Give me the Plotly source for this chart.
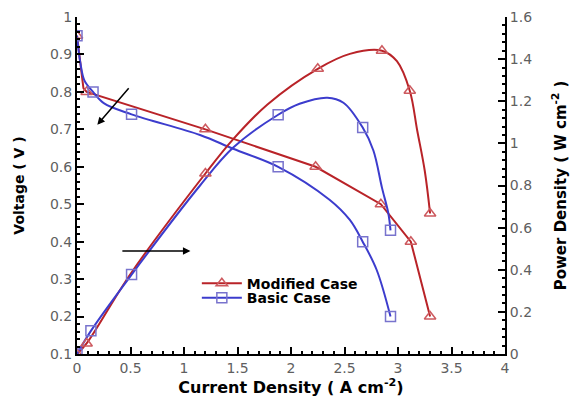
import plotly.graph_objects as go

# ---------------- data ----------------
# Modified case - voltage (left axis)
mod_volt_curve_I = [0, 0.06, 0.09, 1.2, 2.23, 2.84, 3.12, 3.3]
mod_volt_curve_V = [0.95, 0.81, 0.80, 0.70, 0.60, 0.50, 0.40, 0.20]
mod_volt_mark_I = [0, 0.09, 1.2, 2.23, 2.84, 3.12, 3.3]
mod_volt_mark_V = [0.95, 0.80, 0.70, 0.60, 0.50, 0.40, 0.20]

# Basic case - voltage (left axis)
bas_volt_curve_I = [0, 0.03, 0.07, 0.15, 0.25, 0.51, 1.15, 1.46, 1.88, 2.36, 2.55, 2.67, 2.8, 2.93]
bas_volt_curve_V = [0.95, 0.88, 0.83, 0.80, 0.77, 0.74, 0.685, 0.648, 0.60, 0.512, 0.458, 0.40, 0.325, 0.20]
bas_volt_mark_I = [0, 0.15, 0.51, 1.88, 2.67, 2.93]
bas_volt_mark_V = [0.95, 0.80, 0.74, 0.60, 0.40, 0.20]

# Modified case - power density (right axis)
mod_pow_curve_I = [0, 0.09, 0.5, 1.2, 1.46, 1.78, 2.25, 2.55, 2.85, 2.99, 3.11, 3.18, 3.25, 3.3]
mod_pow_curve_P = [0, 0.05, 0.38, 0.857, 1.02, 1.185, 1.354, 1.425, 1.44, 1.39, 1.25, 1.06, 0.87, 0.667]
mod_pow_mark_I = [0, 0.09, 1.2, 2.25, 2.85, 3.11, 3.3]
mod_pow_mark_P = [0, 0.05, 0.857, 1.354, 1.44, 1.25, 0.667]

# Basic case - power density (right axis)
bas_pow_curve_I = [0, 0.13, 0.51, 1.15, 1.46, 1.88, 2.08, 2.34, 2.49, 2.67, 2.77, 2.85, 2.91, 2.93]
bas_pow_curve_P = [0, 0.11, 0.377, 0.80, 0.98, 1.136, 1.188, 1.217, 1.193, 1.075, 0.966, 0.79, 0.667, 0.587]
bas_pow_mark_I = [0, 0.13, 0.51, 1.88, 2.67, 2.93]
bas_pow_mark_P = [0, 0.11, 0.377, 1.136, 1.075, 0.587]

series_names = ["Modified Case", "Basic Case"]

RED = "rgb(185,35,40)"
BLUE = "rgb(60,60,205)"
RED_M = "rgb(205,90,95)"
BLUE_M = "rgb(120,115,205)"
FONT = "DejaVu Sans, Liberation Sans, Arial, sans-serif"

fig = go.Figure()

def add_curve(x, y, color, yaxis, shape="linear"):
    fig.add_trace(go.Scatter(x=x, y=y, mode="lines", yaxis=yaxis,
                             line=dict(color=color, width=2, shape=shape),
                             showlegend=False, hoverinfo="skip"))

def add_marks(x, y, color, symbol, yaxis):
    fig.add_trace(go.Scatter(x=x, y=y, mode="markers", yaxis=yaxis,
                             marker=dict(symbol=symbol, size=10, color=color,
                                         line=dict(color=color, width=1.5)),
                             showlegend=False, hoverinfo="skip"))

add_curve(mod_volt_curve_I, mod_volt_curve_V, RED, "y")
add_curve(bas_volt_curve_I, bas_volt_curve_V, BLUE, "y", "spline")
add_curve(mod_pow_curve_I, mod_pow_curve_P, RED, "y2", "spline")
add_curve(bas_pow_curve_I, bas_pow_curve_P, BLUE, "y2", "spline")

add_marks(mod_volt_mark_I, mod_volt_mark_V, RED_M, "triangle-up-open", "y")
add_marks(bas_volt_mark_I, bas_volt_mark_V, BLUE_M, "square-open", "y")
add_marks(mod_pow_mark_I, mod_pow_mark_P, RED_M, "triangle-up-open", "y2")
add_marks(bas_pow_mark_I, bas_pow_mark_P, BLUE_M, "square-open", "y2")

# legend entries (two legends so the rows can sit close together)
for name, col, mcol, sym, lg in [(series_names[0], RED, RED_M, "triangle-up-open", "legend"),
                                 (series_names[1], BLUE, BLUE_M, "square-open", "legend2")]:
    fig.add_trace(go.Scatter(x=[None], y=[None], mode="lines+markers", name=name,
                             legend=lg,
                             line=dict(color=col, width=2),
                             marker=dict(symbol=sym, size=10, color=mcol,
                                         line=dict(color=mcol, width=1.5))))

# arrows
fig.add_annotation(x=0.19, y=0.712, ax=0.495, ay=0.814, xref="x", yref="y",
                   axref="x", ayref="y", text="", showarrow=True,
                   arrowhead=2, arrowsize=1, arrowwidth=1.5, arrowcolor="black")
fig.add_annotation(x=1.06, y=0.375, ax=0.41, ay=0.375, xref="x", yref="y",
                   axref="x", ayref="y", text="", showarrow=True,
                   arrowhead=2, arrowsize=1, arrowwidth=1.5, arrowcolor="black")

tickfont = dict(family=FONT, size=14, color="rgb(95,95,95)")
legfont = dict(family=FONT, size=14, color="black", weight="bold")

fig.update_layout(
    width=572, height=401,
    margin=dict(l=77, r=67, t=17, b=47),
    paper_bgcolor="white", plot_bgcolor="white",
    showlegend=True,
    legend=dict(x=0.28, y=0.256, xanchor="left", yanchor="top", font=legfont,
                bgcolor="rgba(0,0,0,0)", itemwidth=40),
    legend2=dict(x=0.28, y=0.213, xanchor="left", yanchor="top", font=legfont,
                 bgcolor="rgba(0,0,0,0)", itemwidth=40),
    xaxis=dict(range=[0, 4], dtick=0.5, showgrid=False, zeroline=False,
               showline=True, linecolor="black", linewidth=2, automargin=False,
               ticks="inside", ticklen=7, tickwidth=2, tickcolor="black",
               minor=dict(ticks="inside", ticklen=3, dtick=0.1, tickcolor="black"),
               tickfont=tickfont,
               title=dict(text="<b>Current Density ( A cm<sup>-2</sup>)</b>",
                          font=dict(family=FONT, size=16, color="black"), standoff=6)),
    yaxis=dict(range=[0.1, 1.0], dtick=0.1, tick0=0.1, showgrid=False, zeroline=False,
               showline=True, linecolor="black", linewidth=2, automargin=False,
               ticks="inside", ticklen=7, tickwidth=2, tickcolor="black",
               minor=dict(ticks="inside", ticklen=3, dtick=0.02, tickcolor="black"),
               tickfont=tickfont,
               title=dict(text="<b>Voltage ( V )</b>",
                          font=dict(family=FONT, size=14, color="black"), standoff=22)),
    yaxis2=dict(range=[0, 1.6], dtick=0.2, overlaying="y", side="right",
                showgrid=False, zeroline=False, automargin=False,
                showline=True, linecolor="black", linewidth=2,
                ticks="inside", ticklen=7, tickwidth=2, tickcolor="black",
                minor=dict(ticks="inside", ticklen=3, dtick=0.04, tickcolor="black"),
                tickfont=tickfont,
                title=dict(text="<b>Power Density ( W cm<sup>-2</sup> )</b>",
                           font=dict(family=FONT, size=15, color="black"), standoff=24)),
)

fig.write_html("out.html")
